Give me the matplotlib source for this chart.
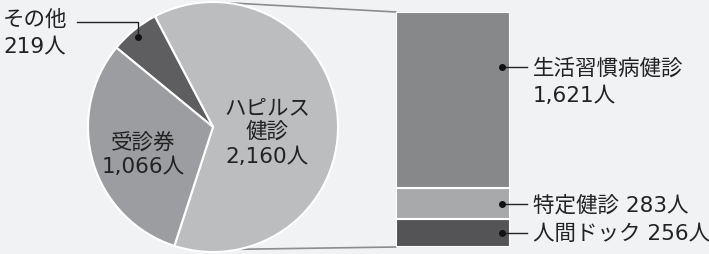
import matplotlib.pyplot as plt
from matplotlib.patches import ConnectionPatch
import numpy as np

# pie: breakdown of all examinations
pie_labels = ['ハピルス\n健診', 'その他', '受診券']
pie_values = [2160, 219, 1066]
pie_colors = ['#bcbdbf', '#5e5e60', '#9c9da0']

# bar: breakdown of ハピルス健診 (bottom to top)
bar_labels = ['人間ドック', '特定健診', '生活習慣病健診']
bar_values = [256, 283, 1621]
bar_colors = ['#545456', '#a8a9ab', '#87888a']

BG = '#f1f2f4'
TXT = '#222222'
FONT = ['DejaVu Sans', 'Noto Sans CJK JP']
FS = 15.5

fig = plt.figure(figsize=(7.09, 2.55), dpi=100, facecolor=BG)
ax = fig.add_axes([0, 0, 1, 1])
ax.set_zorder(2)

cx, cy, r = 213, 127, 125
ax.pie(pie_values, colors=pie_colors, startangle=-108, counterclock=True,
       center=(cx, cy), radius=r,
       wedgeprops=dict(edgecolor='white', linewidth=1.5))
ax.set_xlim(0, 709)
ax.set_ylim(0, 255)
ax.set_aspect('auto')
ax.axis('off')

def txt(x, y, s, ha='center'):
    ax.text(x, 255 - y, s, ha=ha, va='center', fontsize=FS, color=TXT,
            family=FONT)

# pie labels
txt(267, 108, 'ハピルス')
txt(267, 132, '健診')
txt(267, 157, f'{pie_values[0]:,}人')
txt(143, 143, '受診券')
txt(143, 167, f'{pie_values[2]:,}人')
txt(3, 20, 'その他', ha='left')
txt(3, 46, f'{pie_values[1]}人', ha='left')
ax.plot([77, 138, 138], [255 - 23, 255 - 23, 255 - 38], color='#222222', lw=1)
ax.plot([138], [255 - 38], 'o', color='#111111', ms=4)

# bar on its own axes
bax = fig.add_axes([396 / 709, 7 / 255, 114 / 709, 235 / 255])
bax.set_zorder(1)
bottoms = np.concatenate([[0], np.cumsum(bar_values)[:-1]])
bax.bar(0, bar_values, bottom=bottoms, width=1, color=bar_colors,
        edgecolor='white', linewidth=1.5)
bax.set_xlim(-0.5, 0.5)
bax.set_ylim(0, sum(bar_values))
bax.axis('off')

# connector lines from pie to bar
for ang, yb in [(84, sum(bar_values)), (-78, 0)]:
    a = np.radians(ang)
    con = ConnectionPatch(xyA=(cx + r * np.cos(a), cy + r * np.sin(a)), coordsA='data', axesA=ax,
                          xyB=(-0.5, yb), coordsB='data', axesB=bax,
                          color='#8c8c8c', lw=1.2, zorder=0)
    fig.add_artist(con)

# bar labels
label_y = [234, 205, 68]
for lab, val, y in zip(bar_labels, bar_values, label_y):
    ax.plot([502, 527], [255 - y, 255 - y], color='#222222', lw=1)
    ax.plot([502], [255 - y], 'o', color='#111111', ms=4)
    if lab == '生活習慣病健診':
        txt(533, y, lab, ha='left')
        txt(533, y + 28, f'{val:,}人', ha='left')
    else:
        txt(533, y, f'{lab} {val}人', ha='left')

fig.savefig('out.png', dpi=100, facecolor=BG)
